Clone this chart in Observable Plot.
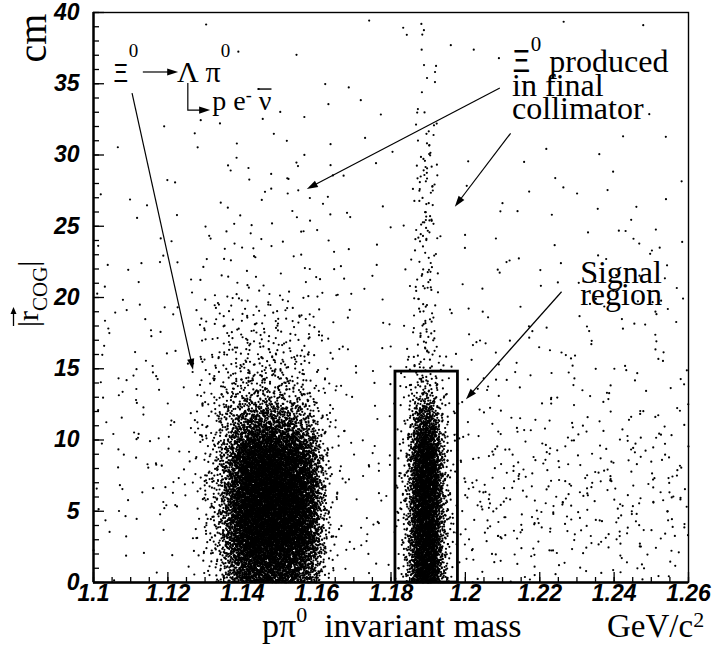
<!DOCTYPE html>
<html>
<head>
<meta charset="utf-8">
<script src="https://cdn.jsdelivr.net/npm/d3@7"></script>
<script src="https://cdn.jsdelivr.net/npm/@observablehq/plot@0.6"></script>
<style>
  html, body { margin: 0; padding: 0; background: #fff; }
  svg { display: block; }
</style>
</head>
<body>
<div id="chart"></div>
<script>
// ---------------- DATA (event counts per cell) ----------------
// Diffuse background: mass bins of 0.01 GeV/c2, |r_COG| bins of 2.5 cm (rows listed top -> bottom)
const bgMassBins   = [1.10,1.11,1.12,1.13,1.14,1.15,1.16,1.17,1.18,1.19,1.20,1.21,1.22,1.23,1.24,1.25];
const bgMassWidth  = 0.01;
const bgRadiusBins = [37.5,35,32.5,30,27.5,25,22.5,20,17.5,15,12.5,10,7.5,5,2.5,0];
const bgRadiusWidth = 2.5;
const bgCounts = [
  [0,0,0,2,0,0,0,1,2,1,1,0,1,0,1,0],
  [0,0,0,0,0,1,1,0,1,1,1,0,0,0,0,0],
  [0,0,0,0,1,1,2,2,1,0,0,0,0,0,0,0],
  [0,0,3,4,2,3,1,1,1,0,1,0,0,0,2,1],
  [1,2,0,2,4,6,2,1,1,2,1,1,2,3,0,1],
  [0,2,2,3,5,5,3,3,2,1,1,2,2,2,3,2],
  [2,2,4,6,6,5,5,3,2,2,2,2,2,2,4,2],
  [4,2,5,8,8,6,4,3,3,2,3,2,3,3,4,5],
  [5,3,3,0,0,0,3,4,3,3,3,2,2,3,5,5],
  [5,5,3,0,0,0,4,4,4,5,7,5,6,5,4,4],
  [5,7,4,0,0,0,3,4,3,4,6,5,5,6,5,6],
  [5,7,7,0,0,0,3,5,3,4,10,8,8,8,8,8],
  [4,10,9,0,0,0,3,8,3,4,14,13,13,13,13,12],
  [3,7,10,0,0,0,3,9,3,4,20,16,16,16,15,14],
  [5,3,7,0,0,0,3,9,3,4,20,16,15,15,14,14],
  [2,1,2,0,0,0,2,5,2,3,9,8,7,7,7,7]
];

// Xi0 -> Lambda pi0 cluster: mass bins 0.0025, radius bins 2 cm (top -> bottom)
const lambdaMassBins   = [1.1275,1.13,1.1325,1.135,1.1375,1.14,1.1425,1.145,1.1475,1.15,1.1525,1.155,1.1575,1.16,1.1625,1.165];
const lambdaMassWidth  = 0.0025;
const lambdaRadiusBins = [18,16,14,12,10,8,6,4,2,0];
const lambdaRadiusWidth = 2;
const lambdaCounts = [
  [3,3,4,4,5,5,5,5,5,5,4,4,3,2,1,1],
  [3,4,5,6,7,8,8,8,8,7,6,5,4,2,1,1],
  [4,5,7,10,12,14,14,14,14,13,11,9,6,3,2,1],
  [5,7,11,17,24,28,30,30,29,27,24,18,11,5,2,1],
  [5,8,16,35,70,100,120,125,120,105,85,60,35,12,3,2],
  [5,10,24,65,150,230,270,280,280,265,240,185,110,30,5,2],
  [5,11,28,90,200,290,320,335,335,320,300,260,170,42,6,2],
  [5,11,28,95,215,300,330,340,340,335,315,265,175,45,6,2],
  [4,9,24,85,200,280,310,320,320,320,300,260,170,42,6,2],
  [3,6,15,48,110,165,185,200,200,185,165,130,80,22,4,2]
];

// Signal peak: mass bins 0.001, radius bins 2 cm (top -> bottom)
const signalMassBins   = [1.181,1.182,1.183,1.184,1.185,1.186,1.187,1.188,1.189,1.190,1.191,1.192,1.193,1.194,1.195,1.196,1.197];
const signalMassWidth  = 0.001;
const signalRadiusBins = [14,12,10,8,6,4,2,0];
const signalRadiusWidth = 2;
const signalCounts = [
  [0,1,1,2,2,3,4,5,5,4,3,3,2,1,1,0,0],
  [0,1,1,2,4,8,12,15,16,15,11,7,4,2,1,1,0],
  [1,1,2,5,12,27,48,62,66,60,44,25,11,5,2,1,1],
  [1,2,4,10,25,55,92,115,120,115,90,55,25,10,4,2,1],
  [1,2,6,13,30,66,105,130,135,130,105,66,30,13,6,2,1],
  [1,2,6,13,30,66,105,130,135,130,105,66,30,13,6,2,1],
  [1,2,6,13,30,66,105,130,135,130,105,66,30,13,6,2,1],
  [1,2,5,12,28,62,100,125,130,125,100,62,28,12,5,2,1]
];

// Xi0 produced in the final collimator: narrow vertical streak, radius bins 2 cm (bottom -> top)
const streakMassBins = [1.1875];
const streakMassWidth = 0.004;
const streakRadiusBins = [16,18,20,22,24,26,28,30,32,34,36,38];
const streakRadiusWidth = 2;
const streakCounts = [16,18,14,16,14,16,16,10,3,3,3,2];

// Signal region box
const signalBox = {m1: 1.1812, m2: 1.198, r1: 0, r2: 14.8};

// Axis ticks and labels
const xTickValues = [1.10,1.12,1.14,1.16,1.18,1.20,1.22,1.24,1.26];
const xTickLabels = ["1.1","1.12","1.14","1.16","1.18","1.2","1.22","1.24","1.26"];
const yTickValues = [0,5,10,15,20,25,30,35,40];
const yTickLabels = ["0","5","10","15","20","25","30","35","40"];
const xMinorTicks = d3.range(0, 33).map(i => 1.1 + i * 0.005);
const yMinorTicks = d3.range(0, 41);

// Annotation anchors (data coordinates)
const arrowsData = [
  [[1.1105, 34.3], [1.1269, 14.9]],
  [[1.2094, 34.67], [1.1575, 27.58]],
  [[1.2123, 31.49], [1.1973, 26.34]],
  [[1.2260, 20.37], [1.2003, 12.82]],
  [[1.1134, 35.79], [1.1229, 35.79]],
  [[1.1255, 35.02], [1.1255, 33.12], [1.1315, 33.12]]
];
const labelCollimatorNote = {m: 1.2127, r: 35.79};
const labelSignalNote     = {m: 1.2310, r: 20.98};
const labelXi         = {m: 1.1054, r: 35.09};
const labelLambdaPi   = {m: 1.1226, r: 35.09};
const labelPeNu       = {m: 1.1321, r: 33.12};

// ---------------- points: each cell's estimated count, spread over the cell with a tent kernel ----------------
function halton(i, b) { let f = 1, r = 0; while (i > 0) { f /= b; r += f * (i % b); i = Math.floor(i / b); } return r; }
const points = [];
let seq = 1;
const reflect = (v, lo, hi) => v < lo ? 2 * lo - v : v > hi ? 2 * hi - v : v;
function addGrid(counts, massBins, mw, radBins, rw) {
  counts.forEach((row, ri) => row.forEach((n, ci) => {
    const cm = massBins[ci] + mw / 2, cr = radBins[ri] + rw / 2;
    for (let k = 0; k < n; k++, seq++) {
      const idx = seq * 409 + 17;
      const du = halton(idx, 2) + halton(idx, 3) - 1;
      const dv = halton(idx, 5) + halton(idx, 7) - 1;
      points.push({m: reflect(cm + du * mw, 1.1, 1.26), r: reflect(cr + dv * rw, 0, 40)});
    }
  }));
}
addGrid(bgCounts, bgMassBins, bgMassWidth, bgRadiusBins, bgRadiusWidth);
addGrid(lambdaCounts, lambdaMassBins, lambdaMassWidth, lambdaRadiusBins, lambdaRadiusWidth);
addGrid(signalCounts, signalMassBins, signalMassWidth, signalRadiusBins, signalRadiusWidth);
addGrid(streakCounts.map(v => [v]), streakMassBins, streakMassWidth, streakRadiusBins, streakRadiusWidth);

// ---------------- plot ----------------
const SANS = "Liberation Sans, Arial, Helvetica, sans-serif";
const SERIF = "Liberation Serif, Times New Roman, Times, serif";
const GREEK = "Noto Sans, DejaVu Sans, sans-serif";
const W = 715, H = 647, ML = 93, MR = 27, MT = 12, MB = 65;
const FW = W - ML - MR, FH = H - MT - MB;

const plot = Plot.plot({
  width: W, height: H,
  marginLeft: ML, marginRight: MR, marginTop: MT, marginBottom: MB,
  x: {domain: [1.1, 1.26], axis: null},
  y: {domain: [0, 40], axis: null},
  style: {background: "white", overflow: "visible"},
  marks: [
    Plot.dot(points, {x: "m", y: "r", r: 1.1, fill: "black", stroke: "none"}),
    Plot.rect([signalBox], {x1: "m1", x2: "m2", y1: "r1", y2: "r2", fill: "none", stroke: "black", strokeWidth: 2.8}),
    Plot.frame({stroke: "black", strokeWidth: 1.4}),
    Plot.ruleX([1.1], {stroke: "black", strokeWidth: 2.4}),
    Plot.ruleY([0], {stroke: "black", strokeWidth: 2.4}),
    Plot.ruleX(xMinorTicks, {x: d => d, insetTop: FH - 5, stroke: "black", strokeWidth: 1.3}),
    Plot.ruleX(xTickValues, {x: d => d, insetTop: FH - 10, stroke: "black", strokeWidth: 1.3}),
    Plot.ruleY(yMinorTicks, {y: d => d, insetRight: FW - 6, stroke: "black", strokeWidth: 1.3}),
    Plot.ruleY(yTickValues, {y: d => d, insetRight: FW - 11, stroke: "black", strokeWidth: 1.3}),
    Plot.text(xTickValues, {x: d => d, frameAnchor: "bottom", dy: 18, text: (d, i) => xTickLabels[i],
      fontSize: 23, fontWeight: "bold", fontStyle: "italic", fontFamily: SANS, fill: "black"}),
    Plot.text(yTickValues, {y: d => d, frameAnchor: "left", dx: -14, textAnchor: "end", text: (d, i) => yTickLabels[i],
      fontSize: 23, fontWeight: "bold", fontStyle: "italic", fontFamily: SANS, fill: "black"})
  ]
});
document.getElementById("chart").append(plot);

// ---------------- annotations (positioned through the plot's scales) ----------------
const X = plot.scale("x"), Y = plot.scale("y");
const px = v => X.apply(v), py = v => Y.apply(v);
const svg = d3.select(plot);
const g = svg.append("g");

function drawArrow(pts, head = 11, half = 3.6) {
  const p = pts.map(([m, r]) => [px(m), py(r)]);
  const [x0, y0] = p[p.length - 2], [x1, y1] = p[p.length - 1];
  const len = Math.hypot(x1 - x0, y1 - y0), ux = (x1 - x0) / len, uy = (y1 - y0) / len;
  const bx = x1 - ux * head, by = y1 - uy * head;
  const q = p.slice(0, -1).concat([[bx + ux * 2, by + uy * 2]]);
  g.append("path").attr("d", "M" + q.map(d => d.join(",")).join("L"))
    .attr("fill", "none").attr("stroke", "black").attr("stroke-width", 1.2);
  g.append("path").attr("d", `M${x1},${y1}L${bx - uy * half},${by + ux * half}L${bx + uy * half},${by - ux * half}Z`)
    .attr("fill", "black");
}
arrowsData.forEach(a => drawArrow(a));

// parts: {t, size, shift (baseline offset px), line (new line dy px), family}
function addText(x, y, size, parts, opts = {}) {
  const t = g.append("text")
    .attr("font-family", opts.family || SERIF).attr("font-size", size)
    .attr("fill", "black").attr("text-anchor", opts.anchor || "start")
    .style("white-space", "pre");
  if (opts.transform) t.attr("transform", opts.transform).attr("x", 0).attr("y", 0);
  else t.attr("x", x).attr("y", y);
  let prev = 0;
  parts.forEach(p => {
    const shift = p.shift || 0;
    const s = t.append("tspan");
    if (p.line != null) { s.attr("x", opts.transform ? 0 : x).attr("dy", p.line + shift - prev); }
    else s.attr("dy", shift - prev);
    s.text(p.t);
    if (p.size) s.attr("font-size", p.size);
    if (p.family) s.attr("font-family", p.family);
    prev = shift;
  });
  return t;
}

// right-hand annotations (multi-line texts)
addText(px(labelCollimatorNote.m), py(labelCollimatorNote.r), 32, [
  {t: "Ξ", family: GREEK, size: 30}, {t: "0", size: 21, shift: -21}, {t: " produced", shift: 0},
  {t: "in final", line: 24.5}, {t: "collimator", line: 23}
]);
addText(px(labelSignalNote.m), py(labelSignalNote.r), 32, [{t: "Signal"}, {t: "region", line: 22}]);

// decay chain
addText(px(labelXi.m), py(labelXi.r), 30, [{t: "Ξ", family: GREEK, size: 25}, {t: "0", size: 19, shift: -25}]);
addText(px(labelLambdaPi.m), py(labelLambdaPi.r), 30, [{t: "Λ π"}, {t: "0", size: 19, shift: -25}]);
const pe = addText(px(labelPeNu.m), py(labelPeNu.r), 28, [{t: "p e"}, {t: "-", size: 18, shift: -9}, {t: " ν", shift: 0}]);
{
  const bb = pe.node().getBBox();
  const nuRight = bb.x + bb.width, y0 = py(labelPeNu.r) - 21;
  g.append("line").attr("x1", nuRight - 14).attr("x2", nuRight).attr("y1", y0).attr("y2", y0)
    .attr("stroke", "black").attr("stroke-width", 1.4);
}

// axis titles
addText(262, 637, 34, [{t: "pπ"}, {t: "0", size: 22, shift: -15}, {t: "  invariant mass", shift: 0}]);
addText(607, 637, 33, [{t: "GeV/c"}, {t: "2", size: 22, shift: -10}]);
addText(0, 0, 40, [{t: "cm"}], {anchor: "middle", transform: "translate(46,38) rotate(-90)"});
addText(0, 0, 30, [{t: "|r"}, {t: "COG", size: 21, shift: 9}, {t: "|", shift: 0}], {transform: "translate(38,327) rotate(-90)"});
// vector arrow over r
g.append("path").attr("d", "M13.5,326L13.5,312").attr("stroke", "black").attr("stroke-width", 1.3);
g.append("path").attr("d", "M13.5,307L10.5,314L16.5,314Z").attr("fill", "black");
</script>
</body>
</html>
